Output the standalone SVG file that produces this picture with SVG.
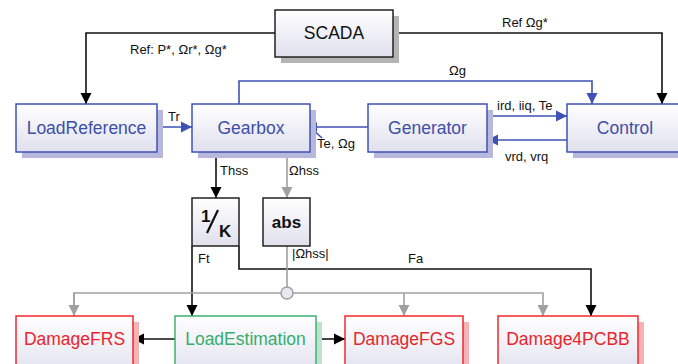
<svg xmlns="http://www.w3.org/2000/svg" width="678" height="364" viewBox="0 0 678 364">
<defs>
<linearGradient id="g" x1="0" y1="0" x2="0" y2="1">
<stop offset="0" stop-color="#ffffff"/>
<stop offset="1" stop-color="#e0e0ee"/>
</linearGradient>
<marker id="ab" markerUnits="userSpaceOnUse" markerWidth="12" markerHeight="12" viewBox="0 0 12 12" refX="11" refY="6" orient="auto"><path d="M0,0.5 L11,6 L0,11.5 Z" fill="#000"/></marker>
<marker id="au" markerUnits="userSpaceOnUse" markerWidth="12" markerHeight="12" viewBox="0 0 12 12" refX="11" refY="6" orient="auto"><path d="M0,0.5 L11,6 L0,11.5 Z" fill="#3f51b5"/></marker>
<marker id="ag" markerUnits="userSpaceOnUse" markerWidth="12" markerHeight="12" viewBox="0 0 12 12" refX="11" refY="6" orient="auto"><path d="M0,0.5 L11,6 L0,11.5 Z" fill="#a0a0a0"/></marker>
<marker id="as" markerUnits="userSpaceOnUse" markerWidth="8" markerHeight="10" viewBox="0 0 8 10" refX="7" refY="5" orient="auto"><path d="M0,0 L7,5 L0,10 Z" fill="#3f51b5"/></marker>
</defs>
<style>
text{font-family:"Liberation Sans",Arial,sans-serif}
.box{fill:url(#g);stroke-width:1.5}
.bl{stroke:#3f51b5}
.rd{stroke:#ee2a2e}
.gr{stroke:#3cb371}
.bk{stroke:#222}
.sb{fill:#b8b8dc}
.sr{fill:#f5b3b5}
.sg{fill:#bfe2cd}
.sk{fill:#b4b4b4}
.t{font-size:17.5px;text-anchor:middle}
.tb{fill:#3f4fa8}
.tr{fill:#e8262c}
.tg{fill:#35ad6b}
.lbl{font-size:13px;fill:#111}
.c{fill:none;stroke-width:1.6}
.ck{stroke:#111}
.cb{stroke:#3f51b5}
.cg{stroke:#a0a0a0}
</style>
<g id="connectors">
<path class="c ck" d="M275,33 H86 V104" marker-end="url(#ab)"/>
<path class="c ck" d="M393,33 H662 V104" marker-end="url(#ab)"/>
<path class="c cb" d="M239,104 V81 H592 V104" marker-end="url(#au)"/>
<path class="c cb" d="M157,127 H192" marker-end="url(#au)"/>
<path class="c cb" d="M368,127 H310" marker-end="url(#as)"/>
<path class="c cb" d="M311,128 L322,138"/>
<path class="c cb" d="M487,116 H567" marker-end="url(#au)"/>
<path class="c cb" d="M567,140 H487" marker-end="url(#au)"/>
<path class="c ck" d="M216,152 V198" marker-end="url(#ab)"/>
<path class="c cg" d="M287,152 V198" marker-end="url(#ag)"/>
<path class="c ck" d="M192,246 V316" marker-end="url(#ab)"/>
<path class="c ck" d="M239,246 V269 H591 V316" marker-end="url(#ab)"/>
<path class="c cg" d="M287,246 V293"/>
<path class="c cg" d="M74,316 V293 H543 V316" marker-end="url(#ag)"/>
<path class="c cg" d="M74,293 V316" marker-end="url(#ag)"/>
<path class="c cg" d="M404,293 V316" marker-end="url(#ag)"/>
<circle cx="287" cy="293" r="6" fill="#e8e8f0" stroke="#a0a0a0" stroke-width="1.5"/>
<path class="c ck" d="M175,339 H133" marker-end="url(#ab)"/>
<path class="c ck" d="M316,339 H345" marker-end="url(#ab)"/>
<text class="lbl" x="130" y="54">Ref: P*, Ωr*, Ωg*</text>
<text class="lbl" x="502" y="27">Ref Ωg*</text>
<text class="lbl" x="449" y="75">Ωg</text>
<text class="lbl" x="168" y="121">Tr</text>
<text class="lbl" x="317" y="148">Te, Ωg</text>
<text class="lbl" x="497" y="110">ird, iiq, Te</text>
<text class="lbl" x="505" y="161">vrd, vrq</text>
<text class="lbl" x="220" y="175">Thss</text>
<text class="lbl" x="289" y="175">Ωhss</text>
<text class="lbl" x="198" y="263">Ft</text>
<text class="lbl" x="292" y="258">|Ωhss|</text>
<text class="lbl" x="408" y="263">Fa</text>
</g>
<g id="SCADA">
<rect class="sk" x="281" y="16" width="118" height="47"/>
<rect class="box bk" x="275" y="10" width="118" height="47"/>
<text class="t" x="334" y="39" fill="#111">SCADA</text>
</g>
<g id="LoadReference">
<rect class="sb" x="22" y="110" width="141" height="48"/>
<rect class="box bl" x="16" y="104" width="141" height="48"/>
<text class="t tb" x="86.5" y="134">LoadReference</text>
</g>
<g id="Gearbox">
<rect class="sb" x="198" y="110" width="118" height="48"/>
<rect class="box bl" x="192" y="104" width="118" height="48"/>
<text class="t tb" x="251" y="134">Gearbox</text>
</g>
<g id="Generator">
<rect class="sb" x="374" y="110" width="119" height="48"/>
<rect class="box bl" x="368" y="104" width="119" height="48"/>
<text class="t tb" x="427.5" y="134">Generator</text>
</g>
<g id="Control">
<rect class="sb" x="573" y="110" width="112" height="48"/>
<rect class="box bl" x="567" y="104" width="120" height="48"/>
<text class="t tb" x="625" y="134">Control</text>
</g>
<g id="InvK">
<rect class="box bk" x="192" y="198" width="47" height="48"/>
<text x="201" y="222" font-size="17" font-weight="bold" fill="#111">1</text>
<path d="M207,233 L218,210" stroke="#111" stroke-width="2.2"/>
<text x="219" y="237" font-size="17" font-weight="bold" fill="#111">K</text>
</g>
<g id="abs">
<rect class="box bk" x="263" y="198" width="47" height="48"/>
<text x="286.5" y="228" font-size="17" font-weight="bold" text-anchor="middle" fill="#111">abs</text>
</g>
<g id="DamageFRS">
<rect class="sr" x="22" y="322" width="117" height="60"/>
<rect class="box rd" x="16" y="316" width="117" height="60"/>
<text class="t tr" x="74.5" y="345">DamageFRS</text>
</g>
<g id="LoadEstimation">
<rect class="sg" x="181" y="322" width="141" height="60"/>
<rect class="box gr" x="175" y="316" width="141" height="60"/>
<text class="t tg" x="245.5" y="345">LoadEstimation</text>
</g>
<g id="DamageFGS">
<rect class="sr" x="351" y="322" width="118" height="60"/>
<rect class="box rd" x="345" y="316" width="118" height="60"/>
<text class="t tr" x="404" y="345">DamageFGS</text>
</g>
<g id="Damage4PCBB">
<rect class="sr" x="504" y="322" width="140" height="60"/>
<rect class="box rd" x="498" y="316" width="140" height="60"/>
<text class="t tr" x="568" y="345">Damage4PCBB</text>
</g>
</svg>
